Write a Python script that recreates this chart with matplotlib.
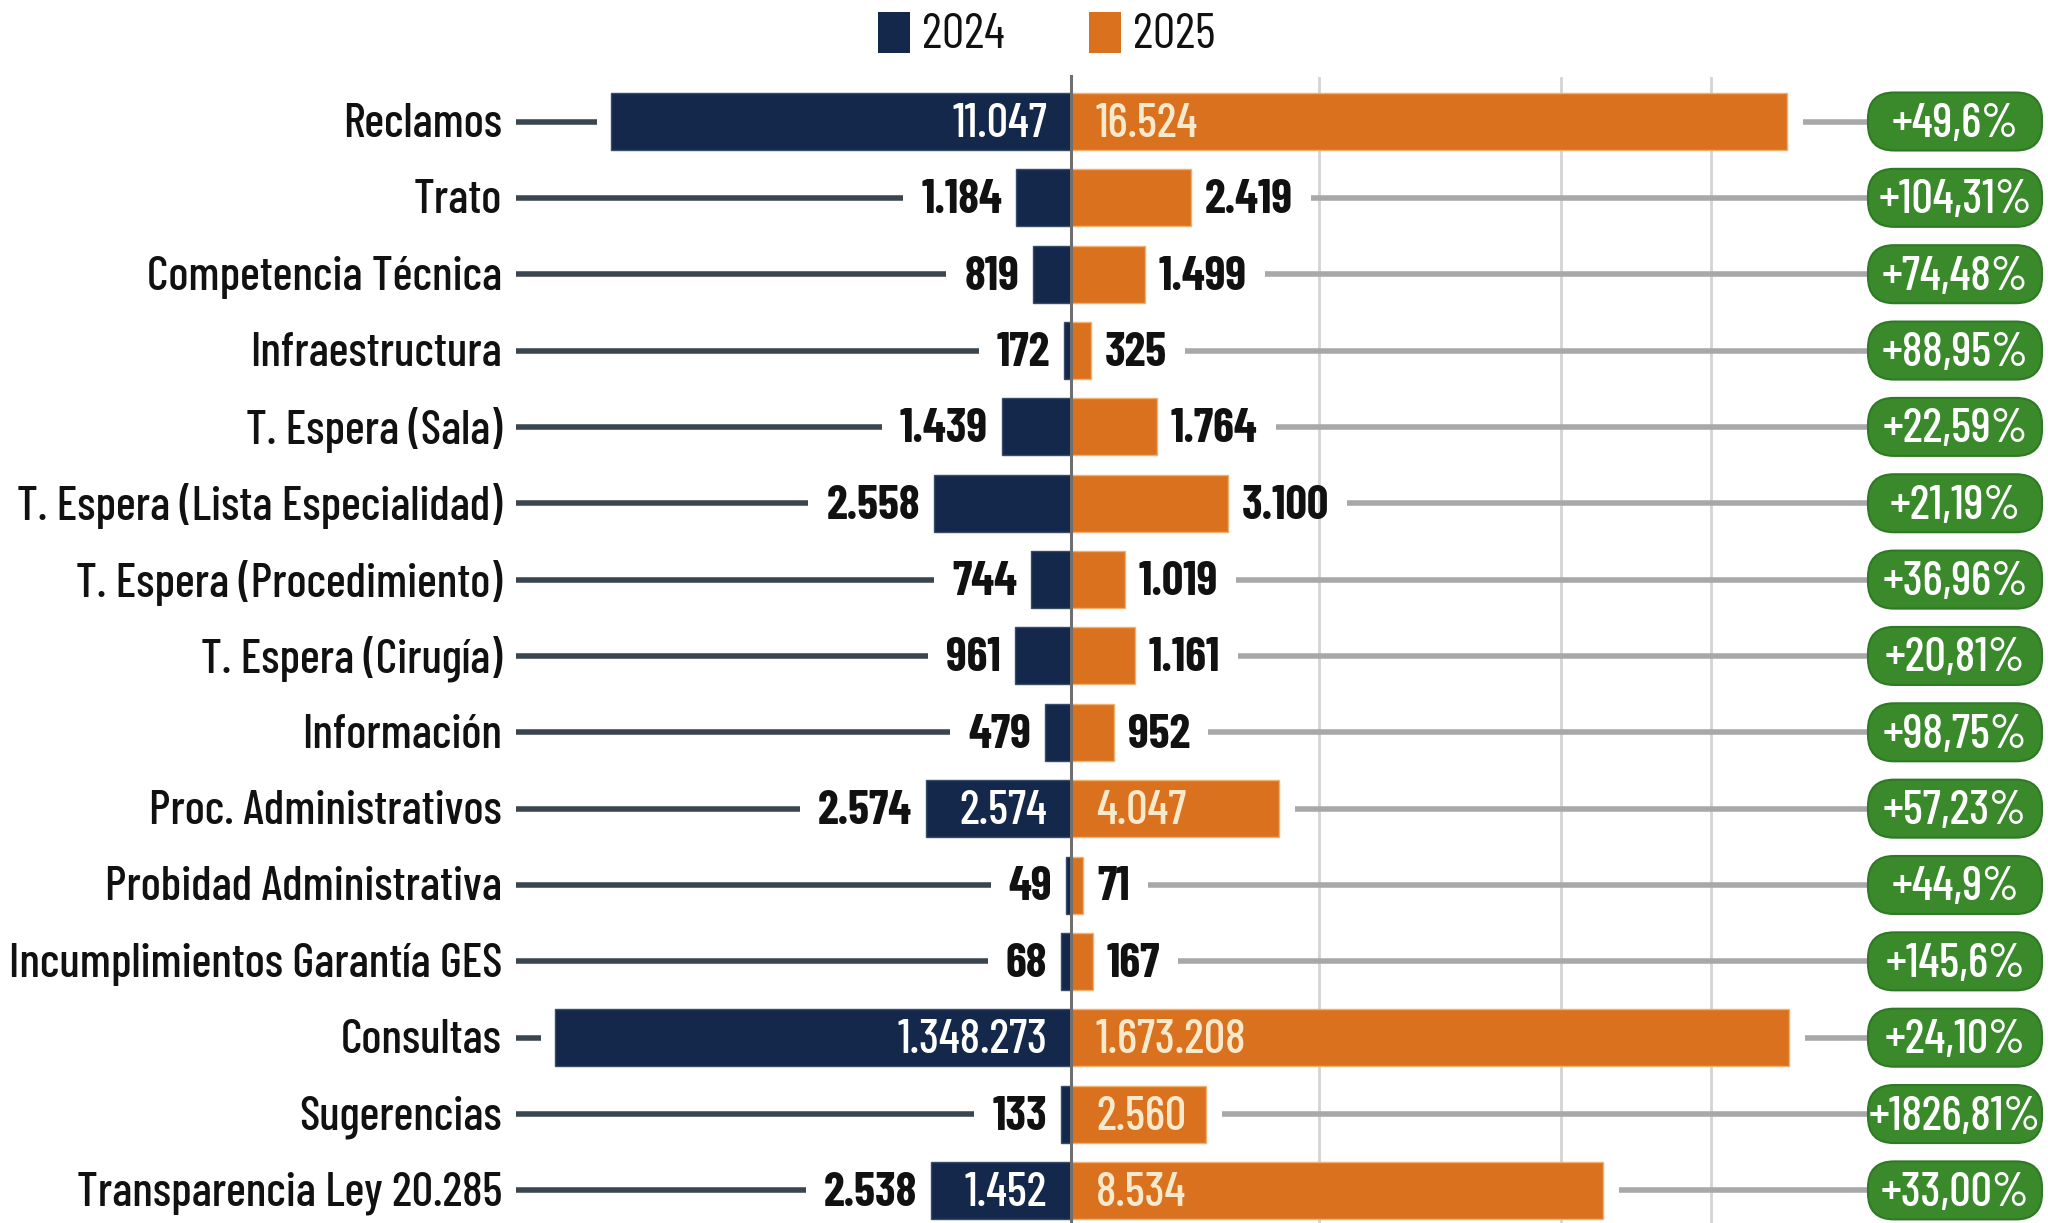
import matplotlib
matplotlib.use("Agg")
import matplotlib.pyplot as plt
from matplotlib.patches import FancyBboxPatch, Rectangle

categories = ["Reclamos", "Trato", "Competencia Técnica", "Infraestructura",
              "T. Espera (Sala)", "T. Espera (Lista Especialidad)",
              "T. Espera (Procedimiento)", "T. Espera (Cirugía)", "Información",
              "Proc. Administrativos", "Probidad Administrativa",
              "Incumplimientos Garantía GES", "Consultas", "Sugerencias",
              "Transparencia Ley 20.285"]
# labels printed outside / inside the bars
label_2024_out = ["", "1.184", "819", "172", "1.439", "2.558", "744", "961", "479",
                  "2.574", "49", "68", "", "133", "2.538"]
label_2024_in = ["11.047", "", "", "", "", "", "", "", "", "2.574", "", "", "1.348.273", "", "1.452"]
label_2025_out = ["", "2.419", "1.499", "325", "1.764", "3.100", "1.019", "1.161", "952",
                  "", "71", "167", "", "", ""]
label_2025_in = ["16.524", "", "", "", "", "", "", "", "", "4.047", "", "", "1.673.208", "2.560", "8.534"]
# displayed bar lengths as drawn in the infographic (not proportional to values)
bar_2024 = [460, 55, 38, 7, 69, 137, 40, 56, 26, 145, 5, 10, 516, 10, 140]
bar_2025 = [716, 120, 74, 20, 86, 157, 54, 64, 43, 208, 12, 22, 718, 135, 532]
pct = ["+49,6%", "+104,31%", "+74,48%", "+88,95%", "+22,59%", "+21,19%", "+36,96%",
       "+20,81%", "+98,75%", "+57,23%", "+44,9%", "+145,6%", "+24,10%", "+1826,81%", "+33,00%"]
years = ["2024", "2025"]

NAVY = "#13284a"
ORANGE = "#da711f"
GREEN = "#3a8a2c"
CREAM = "#f7e9cc"
FONT = ["Barlow Condensed", "DejaVu Sans"]
plt.rcParams["font.family"] = FONT

W, H = 2048, 1223
CX = 1071
fig = plt.figure(figsize=(W / 100, H / 100), dpi=100)
ax = fig.add_axes([0, 0, 1, 1])
ax.set_xlim(-CX, W - CX)
row0, step = 121.5, 76.35
ax.set_ylim(H, 0)
ax.axis("off")

fig.canvas.draw()
r = fig.canvas.get_renderer()
inv = ax.transData.inverted()

def text_extent(t):
    bb = t.get_window_extent(renderer=r)
    (x0, _), (x1, _) = inv.transform([[bb.x0, bb.y0], [bb.x1, bb.y1]])
    return min(x0, x1), max(x0, x1)

# fit font size so the longest label has the reference width
probe = ax.text(0, 0, categories[5], fontsize=30, fontweight=500)
px0, px1 = text_extent(probe)
probe.remove()
fs = 30 * 486 / (px1 - px0)

n = len(categories)
ys = [row0 + i * step for i in range(n)]
bh = 57
dy = 3  # text baseline nudge

# grid lines
for gx in [248, 490, 640]:
    ax.plot([gx, gx], [78, H], color="#d4d4d4", lw=2, zorder=0)
ax.plot([0, 0], [76, H], color="#6f6f6f", lw=2.2, zorder=4)

LEFT_START = 516 - CX
PILL_X = 1868 - CX
PILL_W = 174
PILL_H = 58

for i in range(n):
    y = ys[i]
    ax.barh(y, -bar_2024[i], height=bh, left=0, color=NAVY, edgecolor="#3a4c6c", lw=1, zorder=3)
    ax.barh(y, bar_2025[i], height=bh, left=0, color=ORANGE, edgecolor="#f0b070", lw=1, zorder=3)

    ax.text(LEFT_START - 14, y + dy, categories[i], ha="right", va="center", fontsize=fs,
            fontweight=500, color="#111111", zorder=5)

    # left side
    if label_2024_out[i]:
        t = ax.text(-bar_2024[i] - 14, y + dy, label_2024_out[i], ha="right", va="center",
                    fontsize=fs, fontweight="bold", color="#111111", zorder=5)
        x0, _ = text_extent(t)
        left_end = x0 - 18
    else:
        left_end = -bar_2024[i] - 14
    if left_end > LEFT_START:
        ax.plot([LEFT_START, left_end], [y, y], color="#3b4550", lw=4, zorder=2,
                solid_capstyle="butt")
    if label_2024_in[i]:
        ax.text(-24, y + dy, label_2024_in[i], ha="right", va="center", fontsize=fs,
                fontweight=500, color="white", zorder=5)

    # right side
    if label_2025_out[i]:
        t = ax.text(bar_2025[i] + 14, y + dy, label_2025_out[i], ha="left", va="center",
                    fontsize=fs, fontweight="bold", color="#111111", zorder=5)
        _, x1 = text_extent(t)
        right_start = x1 + 18
    else:
        right_start = bar_2025[i] + 16
    if label_2025_in[i]:
        ax.text(25, y + dy, label_2025_in[i], ha="left", va="center", fontsize=fs,
                fontweight=500, color=CREAM, zorder=5)
    ax.plot([right_start, PILL_X], [y, y], color="#a8a8a8", lw=4, zorder=2,
            solid_capstyle="butt")

    pill = FancyBboxPatch((PILL_X, y - PILL_H / 2), PILL_W, PILL_H,
                          boxstyle="round,pad=0,rounding_size=26",
                          facecolor=GREEN, edgecolor="#2e7a24", lw=1.5, zorder=5)
    ax.add_patch(pill)
    ax.text(PILL_X + PILL_W / 2, y + dy, pct[i], ha="center", va="center", fontsize=fs,
            fontweight=500, color="white", zorder=6)

# legend
for x_sq, col, lab in [(878 - CX, NAVY, years[0]), (1089 - CX, ORANGE, years[1])]:
    ax.add_patch(Rectangle((x_sq, 12), 32, 41, facecolor=col, edgecolor="none", zorder=5))
    ax.text(x_sq + 44, 36, lab, ha="left", va="center", fontsize=fs * 1.05, color="#111111")

fig.savefig("out.png", dpi=100, facecolor="white")
